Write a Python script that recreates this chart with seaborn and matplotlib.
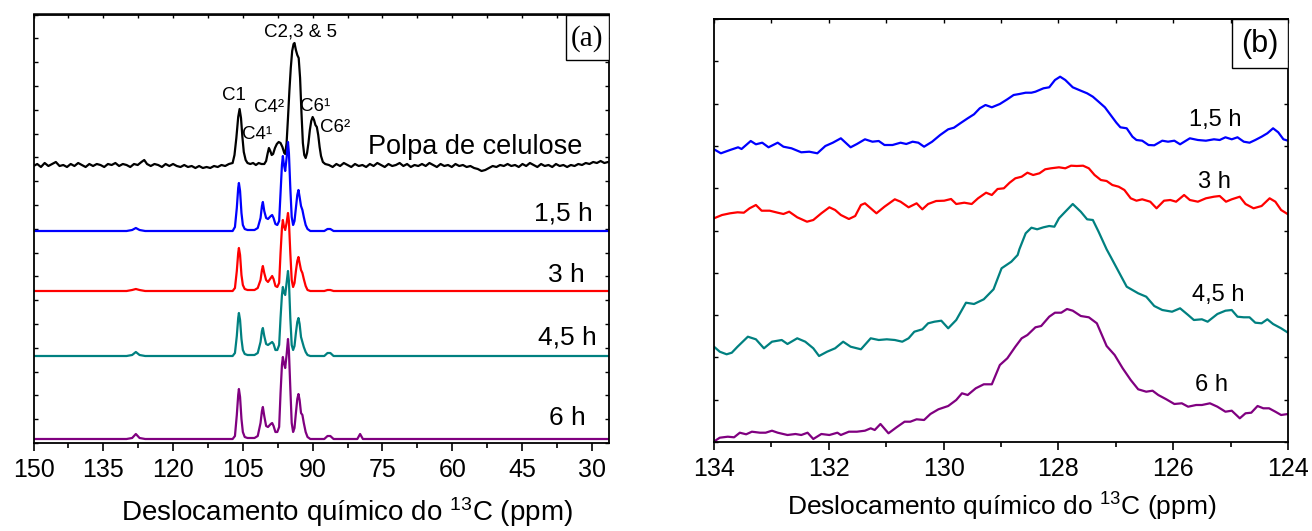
import numpy as np
import pandas as pd
import matplotlib
matplotlib.use("Agg")
import matplotlib.pyplot as plt
from matplotlib.ticker import MultipleLocator, NullFormatter
from matplotlib.patches import Rectangle
import seaborn as sns

sns.set_theme(style="ticks")
plt.rcParams['font.family'] = ['Liberation Sans', 'DejaVu Sans']
plt.rcParams['mathtext.fontset'] = 'custom'
plt.rcParams['mathtext.rm'] = 'Liberation Sans'
plt.rcParams['mathtext.it'] = 'Liberation Sans'
plt.rcParams['text.color'] = 'black'
plt.rcParams['axes.labelcolor'] = 'black'
plt.rcParams['xtick.color'] = 'black'
plt.rcParams['ytick.color'] = 'black'

# ---------------- Panel (a) data: ppm and stacked intensity ----------------
black_ppm = [150.0, 149.2, 148.4, 147.6, 146.8, 146.0, 145.2, 144.4, 143.6, 142.8, 142.0, 141.2, 140.4, 139.6,
             138.8, 138.0, 137.2, 136.4, 135.6, 134.8, 134.0, 133.2, 132.4, 131.6, 130.8, 130.0, 129.2, 128.4,
             127.6, 126.8, 126.2, 125.6, 124.8, 124.0, 123.2, 122.4, 121.6, 120.8, 120.0, 119.2, 118.4, 117.6,
             116.8, 116.0, 115.2, 114.4, 113.6, 112.8, 112.0, 111.2, 110.4, 109.6, 108.8, 108.0,
             107.2, 106.8, 106.4, 106.0, 105.7, 105.4, 105.1, 104.8, 104.4, 104.0, 103.4, 102.8, 102.2, 101.6,
             101.0, 100.4, 100.0, 99.7, 99.4, 99.1, 98.8, 98.5, 98.1, 97.7, 97.3, 96.9, 96.5, 96.1, 95.9,
             95.6, 95.3, 95.0, 94.7, 94.4, 94.1, 93.9, 93.6, 93.3, 93.0, 92.7, 92.4, 92.1, 91.8, 91.5,
             91.2, 90.9, 90.6, 90.3, 90.0, 89.7, 89.4, 89.1, 88.8, 88.5, 88.2, 87.8, 87.3,
             86.5, 85.7, 84.9, 84.1, 83.3, 82.5, 81.7, 80.9, 80.1, 79.3, 78.5, 77.7, 76.9, 76.1, 75.3, 74.5,
             73.7, 72.9, 72.1, 71.3, 70.5, 69.7, 68.9, 68.1, 67.3, 66.5, 65.7, 64.9, 64.1, 63.3, 62.5, 61.7,
             60.9, 60.1, 59.3, 58.5, 57.7, 56.9, 56.1, 55.3, 54.5, 53.7, 52.9, 52.1, 51.3, 50.5, 49.7, 48.9,
             48.1, 47.3, 46.5, 45.7, 44.9, 44.1, 43.3, 42.5, 41.7, 40.9, 40.1, 39.3, 38.5, 37.7, 36.9, 36.1,
             35.3, 34.5, 33.7, 32.9, 32.1, 31.3, 30.5, 29.7, 28.9, 28.1, 27.3, 26.5, 25.8]
black_int = [277, 279, 276, 280, 277, 279, 281, 277, 278, 276, 279, 277, 280, 278,
             276, 279, 277, 279, 278, 276, 279, 278, 280, 277, 279, 278, 276, 279,
             278, 281, 283, 279, 277, 279, 278, 276, 279, 277, 279, 277, 276, 278,
             276, 277, 275, 277, 275, 276, 275, 277, 276, 278, 277, 279,
             280, 288, 305, 326, 334, 325, 306, 291, 283, 280, 279, 280, 278, 280,
             279, 279, 282, 289, 295, 292, 288, 289, 295, 299, 301, 300, 296, 290, 289,
             300, 325, 352, 375, 392, 399, 400, 393, 388, 385, 365, 330, 300, 288, 285,
             290, 300, 313, 322, 326, 323, 318, 316, 308, 296, 287, 281, 279,
             278, 276, 279, 277, 280, 278, 276, 279, 277, 278, 276, 279, 277, 280, 278, 276,
             279, 277, 278, 280, 277, 279, 276, 278, 277, 279, 277, 280, 278, 276, 279, 277,
             278, 276, 279, 277, 278, 276, 277, 275, 274, 272, 273, 275, 277, 276, 278, 277,
             279, 277, 278, 276, 279, 277, 280, 278, 276, 279, 277, 278, 276, 279, 277, 278,
             276, 278, 277, 279, 278, 280, 279, 281, 280, 282, 280, 281, 280]

sample_ppm = [150.0, 135.0, 130.0, 128.8, 128.0, 127.2, 126.0, 110.0, 107.2, 106.7, 106.3, 106.0, 105.85,
              105.6, 105.3, 105.0, 104.6, 104.0, 102.5, 101.8, 101.2, 100.9, 100.7, 100.4, 100.0, 99.6, 99.0,
              98.7, 98.4, 98.0, 97.6, 97.2, 96.9, 96.6, 96.4, 96.2, 95.9, 95.6, 95.3, 95.1, 94.8, 94.5,
              94.2, 93.9, 93.6, 93.3, 93.05, 92.8, 92.5, 92.2, 91.9, 91.5, 91.1, 90.5, 87.5, 86.8, 86.2,
              85.5, 80.4, 79.8, 79.2, 26.0]
blue_int = [212, 212, 212, 213, 215, 213, 212, 212, 212, 216, 235, 255, 260,
            252, 230, 218, 214, 213, 213, 215, 225, 237, 241, 232, 225, 224, 227,
            228, 225, 219, 218, 222, 250, 278, 287, 279, 272, 285, 301, 290, 255, 226,
            218, 222, 235, 248, 253, 246, 237, 233, 226, 218, 214, 212, 212, 214, 214,
            212, 212, 212, 212, 212]
red_int = [152, 152, 152, 153, 154, 153, 152, 152, 152, 155, 172, 190, 195,
           188, 168, 158, 154, 153, 153, 155, 163, 173, 177, 170, 163, 161, 165,
           167, 164, 157, 156, 160, 190, 215, 223, 217, 213, 220, 230, 222, 190, 163,
           156, 160, 172, 182, 186, 180, 173, 170, 164, 157, 153, 152, 152, 153, 153,
           152, 152, 152, 152, 152]
teal_int = [87, 87, 87, 88, 91, 88, 87, 87, 87, 90, 107, 125, 130,
            123, 104, 93, 89, 88, 88, 90, 101, 112, 115, 107, 99, 98, 100,
            101, 99, 93, 93, 98, 125, 148, 156, 151, 148, 160, 172, 162, 125, 98,
            93, 97, 110, 121, 125, 119, 106, 101, 96, 91, 88, 87, 87, 90, 90,
            87, 87, 87, 87, 87]
purple_int = [4, 4, 4, 5, 9, 5, 4, 4, 4, 7, 28, 48, 54,
              46, 24, 11, 6, 5, 5, 7, 20, 32, 36, 27, 17, 16, 19,
              20, 17, 11, 11, 16, 50, 78, 86, 80, 75, 88, 104, 92, 55, 20,
              11, 15, 30, 44, 49, 43, 30, 28, 20, 11, 6, 4, 4, 7, 7,
              4, 4, 9, 4, 4]

# ---------------- Panel (b) data ----------------
blue_b_ppm = [134.00, 133.88, 133.72, 133.58, 133.52, 133.36, 133.27, 133.16, 133.05, 132.89, 132.79, 132.65,
              132.48, 132.34, 132.20, 132.06, 131.93, 131.79, 131.62, 131.51, 131.37, 131.24, 131.13, 131.03,
              130.89, 130.75, 130.65, 130.54, 130.44, 130.34, 130.20, 130.06, 129.92, 129.82, 129.71, 129.58,
              129.47, 129.37, 129.27, 129.16, 129.02, 128.89, 128.78, 128.68, 128.57, 128.47, 128.40, 128.33,
              128.26, 128.16, 128.06, 127.97, 127.88, 127.75, 127.61, 127.50, 127.40, 127.30, 127.19, 127.09,
              126.99, 126.92, 126.81, 126.71, 126.64, 126.54, 126.43, 126.33, 126.19, 126.09, 125.98, 125.88,
              125.71, 125.57, 125.43, 125.29, 125.19, 125.09, 124.98, 124.88, 124.77, 124.67, 124.57, 124.46,
              124.36, 124.26, 124.17, 124.08, 124.00]
blue_b_int = [292.7, 288.7, 292.0, 294.7, 293.0, 301.0, 297.7, 299.3, 294.7, 299.3, 295.3, 293.7,
              289.7, 290.3, 288.7, 296.0, 299.3, 303.7, 294.7, 298.0, 302.7, 300.3, 301.0, 297.0,
              297.0, 299.3, 298.0, 300.3, 299.3, 295.3, 300.3, 307.0, 312.7, 314.3, 318.7, 323.7,
              327.7, 333.7, 337.0, 334.7, 338.0, 342.7, 347.0, 348.0, 349.3, 349.3, 350.3, 352.0,
              353.7, 354.7, 362.0, 365.3, 362.0, 354.7, 351.3, 348.7, 345.3, 340.3, 334.7, 327.0,
              319.3, 314.7, 313.7, 305.3, 302.0, 301.3, 297.0, 296.7, 301.3, 300.3, 301.3, 297.7,
              303.7, 302.0, 301.3, 302.7, 302.0, 304.7, 302.7, 304.7, 300.3, 299.3, 302.0, 305.3,
              308.7, 313.7, 309.7, 302.7, 301.3]

red_b_ppm = [134.00, 133.86, 133.72, 133.59, 133.48, 133.38, 133.27, 133.17, 133.03, 132.89, 132.79, 132.69,
             132.55, 132.38, 132.27, 132.13, 131.99, 131.89, 131.79, 131.65, 131.54, 131.44, 131.37, 131.27,
             131.17, 131.03, 130.85, 130.75, 130.61, 130.47, 130.37, 130.27, 130.13, 129.99, 129.87, 129.78,
             129.64, 129.51, 129.40, 129.26, 129.16, 129.06, 128.95, 128.85, 128.75, 128.64, 128.54, 128.44,
             128.33, 128.23, 128.13, 127.99, 127.88, 127.78, 127.68, 127.57, 127.47, 127.37, 127.26, 127.16,
             127.06, 126.95, 126.85, 126.74, 126.64, 126.54, 126.40, 126.29, 126.16, 126.05, 125.95, 125.81,
             125.71, 125.57, 125.43, 125.29, 125.19, 125.08, 124.98, 124.84, 124.74, 124.60, 124.46, 124.32,
             124.22, 124.12, 124.00]
red_b_int = [223.7, 227.0, 228.7, 229.7, 229.3, 233.7, 237.0, 231.3, 231.3, 229.3, 228.0, 230.3,
             224.7, 220.3, 222.0, 228.7, 234.7, 232.0, 227.0, 223.0, 226.0, 237.0, 238.7, 233.7,
             228.7, 235.3, 242.7, 240.3, 234.7, 238.7, 232.7, 238.0, 241.0, 241.3, 243.0, 238.0,
             239.3, 238.0, 243.7, 249.3, 247.0, 253.0, 253.7, 259.3, 263.7, 265.3, 269.3, 267.0,
             268.7, 272.7, 273.7, 274.7, 273.7, 276.3, 276.0, 276.3, 273.7, 267.0, 262.0, 261.0,
             257.0, 255.3, 252.0, 243.7, 241.3, 242.7, 240.3, 233.7, 241.3, 242.0, 240.3, 247.0,
             242.0, 240.3, 243.7, 245.3, 246.0, 240.3, 242.7, 245.3, 238.0, 233.7, 236.0, 243.7,
             240.3, 232.0, 227.7]

teal_b_ppm = [134.00, 133.90, 133.78, 133.69, 133.59, 133.41, 133.27, 133.13, 132.99, 132.82, 132.72, 132.55,
              132.41, 132.27, 132.17, 132.03, 131.89, 131.75, 131.62, 131.44, 131.27, 131.13, 130.99, 130.85,
              130.72, 130.61, 130.51, 130.37, 130.27, 130.16, 130.04, 129.92, 129.78, 129.61, 129.47, 129.30,
              129.13, 128.99, 128.82, 128.71, 128.68, 128.57, 128.47, 128.37, 128.26, 128.16, 128.07, 127.99,
              127.88, 127.75, 127.61, 127.50, 127.40, 127.30, 127.16, 127.09, 126.95, 126.81, 126.61, 126.47,
              126.33, 126.19, 126.02, 125.88, 125.74, 125.64, 125.50, 125.40, 125.23, 125.09, 124.98, 124.88,
              124.77, 124.67, 124.57, 124.46, 124.36, 124.26, 124.12, 124.00]
teal_b_int = [95.3, 90.3, 87.7, 89.3, 95.3, 105.3, 102.7, 93.7, 100.3, 102.0, 98.0, 103.7,
              100.3, 93.7, 86.0, 90.3, 93.7, 100.3, 95.3, 92.7, 103.7, 102.0, 102.7, 102.0,
              100.3, 103.7, 110.3, 112.7, 118.7, 120.3, 121.3, 113.7, 122.0, 139.3, 138.0, 142.7,
              152.7, 173.7, 180.3, 187.0, 192.7, 208.7, 214.3, 212.7, 214.7, 216.0, 215.3, 223.7,
              230.3, 238.0, 230.3, 222.7, 222.0, 210.3, 192.7, 185.3, 170.3, 155.3, 148.7, 145.3,
              136.0, 132.0, 130.3, 133.7, 127.0, 122.0, 122.7, 120.3, 128.0, 131.3, 132.0, 125.3,
              124.7, 124.7, 119.3, 118.7, 122.7, 118.0, 113.7, 109.3]

purple_b_ppm = [134.00, 133.90, 133.76, 133.65, 133.55, 133.44, 133.34, 133.20, 133.10, 132.99, 132.89, 132.72,
                132.58, 132.48, 132.37, 132.27, 132.13, 131.99, 131.85, 131.79, 131.65, 131.51, 131.37, 131.27,
                131.20, 131.10, 130.96, 130.82, 130.68, 130.58, 130.47, 130.34, 130.23, 130.09, 129.92, 129.78,
                129.68, 129.58, 129.44, 129.30, 129.16, 129.02, 128.89, 128.75, 128.64, 128.54, 128.40, 128.30,
                128.16, 128.06, 127.95, 127.85, 127.75, 127.61, 127.47, 127.33, 127.16, 127.02, 126.88, 126.74,
                126.61, 126.47, 126.36, 126.26, 126.12, 125.98, 125.85, 125.74, 125.60, 125.50, 125.36, 125.23,
                125.09, 124.98, 124.84, 124.74, 124.64, 124.53, 124.43, 124.33, 124.22, 124.12, 124.00]
purple_b_int = [0.5, 4.3, 5.3, 4.7, 9.3, 7.7, 10.3, 9.3, 9.3, 11.3, 9.3, 7.0,
                8.0, 7.0, 9.3, 3.0, 8.0, 7.0, 9.3, 7.0, 10.3, 10.3, 11.3, 13.7,
                12.0, 18.0, 8.7, 14.7, 20.3, 20.3, 22.7, 22.0, 28.0, 32.7, 36.0, 42.0,
                48.7, 47.0, 53.7, 57.7, 57.7, 77.0, 83.7, 95.3, 103.7, 107.0, 114.7, 116.0,
                125.3, 129.3, 129.3, 133.0, 131.3, 126.0, 124.7, 118.7, 96.0, 87.0, 73.7, 62.0,
                52.7, 50.3, 51.3, 47.0, 42.7, 38.0, 38.7, 35.3, 37.0, 37.0, 38.7, 35.3,
                30.3, 31.3, 23.7, 28.7, 29.3, 36.0, 33.7, 33.7, 30.3, 27.0, 28.0]

labels_a = ["Polpa de celulose", "1,5 h", "3 h", "4,5 h", "6 h"]
labels_b = ["1,5 h", "3 h", "4,5 h", "6 h"]
peak_labels = ["C2,3 & 5", "C1", "C4\u00b9", "C4\u00b2", "C6\u00b9", "C6\u00b2"]

BLACK, BLUE, RED, TEAL, PURPLE = "#000000", "#0000FF", "#FF0000", "#008080", "#800080"

fig = plt.figure(figsize=(13.12, 5.31), dpi=100)
W, H = 1312, 531

def px_axes(l, t, r, b):
    return [l / W, 1 - b / H, (r - l) / W, (b - t) / H]

ax_a = fig.add_axes(px_axes(33.5, 14.5, 609, 443))
ax_b = fig.add_axes(px_axes(714, 19, 1288, 442))

# --- panel (a) ---
lw = 1.6
sns.lineplot(x=black_ppm, y=black_int, ax=ax_a, color=BLACK, lw=lw, estimator=None, sort=False)
for vals, col in [(blue_int, BLUE), (red_int, RED), (teal_int, TEAL), (purple_int, PURPLE)]:
    sns.lineplot(x=sample_ppm, y=vals, ax=ax_a, color=col, lw=lw, estimator=None, sort=False)

ax_a.set_xlim(150, 26.3)
ax_a.set_ylim(0, 428.5)

# --- panel (b) ---
for xs, ys, col in [(blue_b_ppm, blue_b_int, BLUE), (red_b_ppm, red_b_int, RED),
                    (teal_b_ppm, teal_b_int, TEAL), (purple_b_ppm, purple_b_int, PURPLE)]:
    sns.lineplot(x=xs, y=ys, ax=ax_b, color=col, lw=lw, estimator=None, sort=False)
ax_b.set_xlim(134, 124)
ax_b.set_ylim(0, 423)

def style_axes(ax, major, minor, ymaj, fs):
    ax.xaxis.set_major_locator(MultipleLocator(major))
    ax.xaxis.set_minor_locator(MultipleLocator(minor))
    ax.yaxis.set_major_locator(MultipleLocator(ymaj))
    ax.yaxis.set_major_formatter(NullFormatter())
    ax.tick_params(axis='x', which='major', direction='out', length=6, width=1.2,
                   labelsize=fs, pad=5, colors='black')
    ax.tick_params(axis='x', which='minor', direction='out', length=3.5, width=1.2)
    ax.tick_params(axis='y', which='major', direction='in', length=3, width=1.0,
                   left=True, right=True)
    for s in ax.spines.values():
        s.set_visible(True)
        s.set_linewidth(1.3)
        s.set_color('black')
    sec = ax.secondary_xaxis('top')
    sec.xaxis.set_major_locator(MultipleLocator(major))
    sec.xaxis.set_minor_locator(MultipleLocator(minor))
    sec.tick_params(axis='x', which='both', direction='in', length=3, width=1.0, labeltop=False)
    sec.spines['top'].set_linewidth(1.3)
    ax.set_ylabel("")

style_axes(ax_a, 15, 7.5, 23.8, 18)
style_axes(ax_b, 2, 1, 42.3, 18)

ax_a.set_xticks([150, 135, 120, 105, 90, 75, 60, 45, 30])
ax_a.set_xticklabels(["150", "135", "120", "105", "90", "75", "60", "45", "30"])
ax_b.set_xticks([134, 132, 130, 128, 126, 124])
ax_b.set_xticklabels(["134", "132", "130", "128", "126", "124"])

ax_a.set_xlabel(r"Deslocamento químico do $^{13}$C (ppm)", fontsize=20)
ax_a.xaxis.set_label_coords(0.544, -0.122)
ax_b.set_xlabel(r"Deslocamento químico do $^{13}$C (ppm)", fontsize=19)
ax_b.xaxis.set_label_coords(0.502, -0.115)

# annotations panel (a)
ax_a.text(92.7, 411, peak_labels[0], fontsize=13.5, ha='center', va='center')
ax_a.text(106.9, 348, peak_labels[1], fontsize=13.5, ha='center', va='center')
ax_a.text(101.9, 309, peak_labels[2], fontsize=13.5, ha='center', va='center')
ax_a.text(99.3, 336, peak_labels[3], fontsize=13.5, ha='center', va='center')
ax_a.text(89.5, 337, peak_labels[4], fontsize=13.5, ha='center', va='center')
ax_a.text(85.2, 316, peak_labels[5], fontsize=13.5, ha='center', va='center')
ax_a.text(55.0, 296, labels_a[0], fontsize=19.5, ha='center', va='center')
ax_a.text(36.1, 230, labels_a[1], fontsize=19, ha='center', va='center')
ax_a.text(35.5, 168, labels_a[2], fontsize=19, ha='center', va='center')
ax_a.text(35.3, 106, labels_a[3], fontsize=19, ha='center', va='center')
ax_a.text(35.3, 25, labels_a[4], fontsize=19, ha='center', va='center')

# annotations panel (b)
ax_b.text(125.27, 322, labels_b[0], fontsize=17, ha='center', va='center')
ax_b.text(125.29, 260, labels_b[1], fontsize=17, ha='center', va='center')
ax_b.text(125.22, 147, labels_b[2], fontsize=17, ha='center', va='center')
ax_b.text(125.34, 57, labels_b[3], fontsize=17, ha='center', va='center')

# panel tags in boxes
ax_a.add_patch(Rectangle((0.925, 0.893), 0.075, 0.107, transform=ax_a.transAxes,
                         facecolor='white', edgecolor='black', lw=1.0, zorder=5))
ax_a.text(0.9625, 0.944, "(a)", transform=ax_a.transAxes, fontsize=21, ha='center', va='center',
          family=['Liberation Serif', 'DejaVu Serif'], zorder=6)
ax_b.add_patch(Rectangle((0.9025, 0.884), 0.0975, 0.116, transform=ax_b.transAxes,
                         facecolor='white', edgecolor='black', lw=1.0, zorder=5))
ax_b.text(0.951, 0.94, "(b)", transform=ax_b.transAxes, fontsize=22, ha='center', va='center', zorder=6)

fig.savefig("out.png", dpi=100, facecolor='white')
